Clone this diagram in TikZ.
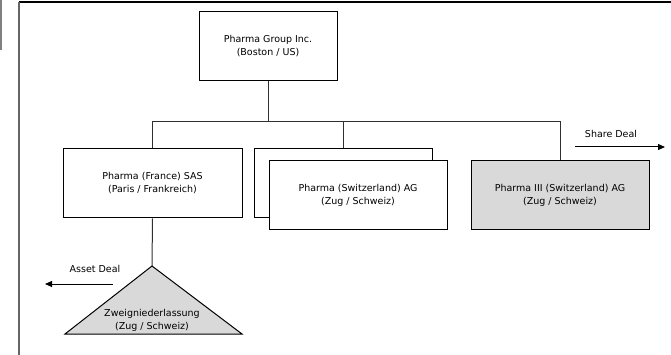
\documentclass[tikz,border=0pt]{standalone}
\usepackage{fontspec}
\setmainfont{DejaVu Sans}
\usetikzlibrary{arrows.meta}
\definecolor{shade}{HTML}{D9D9D9}
\definecolor{wire}{HTML}{303030}
\tikzset{
  entity/.style={draw=black, line width=1pt, fill=white, minimum width=178pt,
    minimum height=68pt, inner sep=0pt, align=center,
    font=\fontsize{9.5}{13}\selectfont},
  link/.style={draw=wire, line width=1pt},
  deal/.style={draw=black, line width=1pt, -{Triangle[length=7pt,width=6pt]}},
  caption/.style={font=\fontsize{9.5}{13}\selectfont, inner sep=0pt}
}
\begin{document}
\begin{tikzpicture}[x=1pt, y=-1pt]
\useasboundingbox (0,0) rectangle (671,355);
% page frame
\draw[gray, line width=1.2pt] (1,0) -- (1,50);
\draw[black, line width=1.4pt] (19,2) -- (671,2);
\draw[gray!80!black, line width=1.4pt] (19,2) -- (19,355);

% parent company
\node[entity, minimum width=138pt, minimum height=69pt] (group) at (268,46.5)
  {Pharma Group Inc.\\(Boston / US)};

% subsidiaries
\node[entity, minimum width=179pt, minimum height=69pt] (france) at (152.5,183.5)
  {Pharma (France) SAS\\(Paris / Frankreich)};
\node[entity, minimum height=69pt] (swback) at (343,183.5) {};
\node[entity] (swfront) at (358,195) {Pharma (Switzerland) AG\\(Zug / Schweiz)};
\node[entity, fill=shade] (p3) at (560,195)
  {Pharma III (Switzerland) AG\\(Zug / Schweiz)};

% ownership lines
\coordinate (bus) at (268,122);
\draw[link] (group.south) -- (bus);
\draw[link] (bus) -| (france.north);
\draw[link] (bus) -| (p3.north);
\draw[link] (swback.north) -- (swback.north |- bus);

% branch office
\coordinate (apex) at (152,266);
\coordinate (baseL) at (65,334);
\coordinate (baseR) at (242,334);
\draw[black, line width=1pt, fill=shade] (apex) -- (baseL) -- (baseR) -- cycle;
\node[caption, align=center] (branch) at (152,320) {Zweigniederlassung\\(Zug / Schweiz)};
\draw[link] (france.south) -- (apex);

% transaction arrows
\coordinate (shareA) at (575,147);
\coordinate (shareB) at (665,147);
\draw[deal] (shareA) -- (shareB);
\node[caption] (share) at (611,134) {Share Deal};
\coordinate (assetA) at (113,284);
\coordinate (assetB) at (45,284);
\draw[deal] (assetA) -- (assetB);
\node[caption] (asset) at (95,269) {Asset Deal};
\end{tikzpicture}
\end{document}
